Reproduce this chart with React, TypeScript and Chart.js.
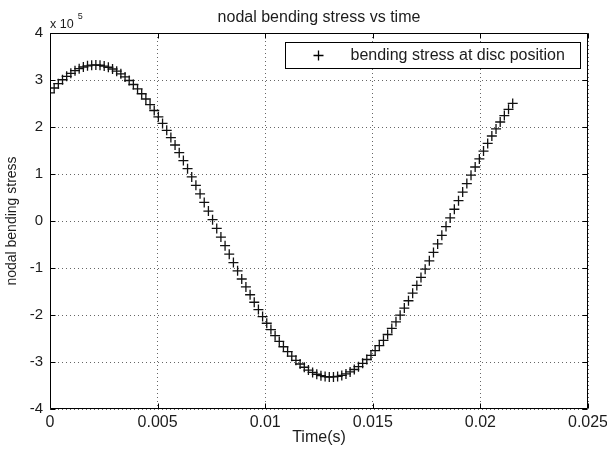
import React, { useEffect, useRef } from "react";
import { Chart, registerables } from "chart.js";

Chart.register(...registerables);

const TITLE = "nodal bending stress vs time";
const X_LABEL = "Time(s)";
const Y_LABEL = "nodal bending stress";
const SERIES_LABEL = "bending stress at disc position";
const Y_EXPONENT = "5";

const X_TICKS = [0, 0.005, 0.01, 0.015, 0.02, 0.025];
const Y_TICKS = [-4e5, -3e5, -2e5, -1e5, 0, 1e5, 2e5, 3e5, 4e5];

const TIME_S = [
  0, 0.000194, 0.000387, 0.000581, 0.000775, 0.000969, 0.001162, 0.001356, 0.00155, 0.001743,
  0.001937, 0.002131, 0.002324, 0.002518, 0.002712, 0.002906, 0.003099, 0.003293, 0.003487, 0.00368,
  0.003874, 0.004068, 0.004261, 0.004455, 0.004649, 0.004843, 0.005036, 0.00523, 0.005424, 0.005617,
  0.005811, 0.006005, 0.006198, 0.006392, 0.006586, 0.00678, 0.006973, 0.007167, 0.007361, 0.007554,
  0.007748, 0.007942, 0.008135, 0.008329, 0.008523, 0.008717, 0.00891, 0.009104, 0.009298, 0.009491,
  0.009685, 0.009879, 0.010072, 0.010266, 0.01046, 0.010654, 0.010847, 0.011041, 0.011235, 0.011428,
  0.011622, 0.011816, 0.012009, 0.012203, 0.012397, 0.012591, 0.012784, 0.012978, 0.013172, 0.013365,
  0.013559, 0.013753, 0.013946, 0.01414, 0.014334, 0.014528, 0.014721, 0.014915, 0.015109, 0.015302,
  0.015496, 0.01569, 0.015883, 0.016077, 0.016271, 0.016465, 0.016658, 0.016852, 0.017046, 0.017239,
  0.017433, 0.017627, 0.01782, 0.018014, 0.018208, 0.018402, 0.018595, 0.018789, 0.018983, 0.019176,
  0.01937, 0.019564, 0.019757, 0.019951, 0.020145, 0.020339, 0.020532, 0.020726, 0.02092, 0.021113,
  0.021307, 0.021501,
];

const STRESS = [
  2.728e5, 2.83e5, 2.922e5, 3.005e5, 3.078e5, 3.143e5, 3.198e5, 3.242e5, 3.277e5, 3.301e5,
  3.316e5, 3.32e5, 3.314e5, 3.297e5, 3.271e5, 3.234e5, 3.187e5, 3.131e5, 3.065e5, 2.989e5,
  2.904e5, 2.81e5, 2.707e5, 2.596e5, 2.478e5, 2.351e5, 2.216e5, 2.076e5, 1.929e5, 1.776e5,
  1.617e5, 1.453e5, 1.286e5, 1.113e5, 0.938e5, 0.759e5, 0.578e5, 0.396e5, 0.212e5, 0.028e5,
  -0.157e5, -0.341e5, -0.524e5, -0.706e5, -0.884e5, -1.061e5, -1.234e5, -1.403e5, -1.569e5, -1.729e5,
  -1.884e5, -2.033e5, -2.175e5, -2.311e5, -2.44e5, -2.562e5, -2.676e5, -2.78e5, -2.877e5, -2.964e5,
  -3.043e5, -3.112e5, -3.172e5, -3.221e5, -3.261e5, -3.291e5, -3.31e5, -3.319e5, -3.318e5, -3.307e5,
  -3.285e5, -3.254e5, -3.212e5, -3.16e5, -3.099e5, -3.028e5, -2.947e5, -2.858e5, -2.759e5, -2.653e5,
  -2.538e5, -2.415e5, -2.285e5, -2.146e5, -2.003e5, -1.852e5, -1.697e5, -1.536e5, -1.37e5, -1.2e5,
  -1.026e5, -0.848e5, -0.669e5, -0.487e5, -0.304e5, -0.119e5, 0.065e5, 0.25e5, 0.433e5, 0.615e5,
  0.796e5, 0.974e5, 1.149e5, 1.32e5, 1.487e5, 1.65e5, 1.808e5, 1.96e5, 2.106e5, 2.244e5,
  2.377e5, 2.502e5,
];

const FONT = "'Liberation Sans', Arial, Helvetica, sans-serif";
const TEXT = "#1c1c1c";
const GRID = "#666666";

const framePlugin = {
  id: "matlabFrame",
  afterDatasetsDraw(chart: any) {
    const { ctx, chartArea: a, scales } = chart;
    const xs = scales.x;
    const ys = scales.y;
    const L = Math.round(a.left) + 0.5;
    const R = Math.round(a.right) - 0.5;
    const T = Math.round(a.top) + 0.5;
    const B = Math.round(a.bottom) - 0.5;
    ctx.save();
    ctx.strokeStyle = "#000";
    ctx.lineWidth = 1;
    ctx.setLineDash([]);
    ctx.beginPath();
    ctx.rect(L, T, R - L, B - T);
    ctx.stroke();
    // inner tick marks
    const tl = 5;
    ctx.beginPath();
    X_TICKS.forEach((v) => {
      const px = Math.round(xs.getPixelForValue(v)) + 0.5;
      ctx.moveTo(px, B);
      ctx.lineTo(px, B - tl);
      ctx.moveTo(px, T);
      ctx.lineTo(px, T + tl);
    });
    Y_TICKS.forEach((v) => {
      const py = Math.round(ys.getPixelForValue(v)) + 0.5;
      ctx.moveTo(L, py);
      ctx.lineTo(L + tl, py);
      ctx.moveTo(R, py);
      ctx.lineTo(R - tl, py);
    });
    ctx.stroke();

    // legend box
    const lw = 295;
    const lh = 26;
    const lr = Math.round(a.right) - 8 + 0.5;
    const ll = lr - lw;
    const lt = Math.round(a.top) + 9 + 0.5;
    ctx.fillStyle = "#fff";
    ctx.fillRect(ll, lt, lw, lh);
    ctx.strokeRect(ll, lt, lw, lh);
    const cx = ll + 33;
    const cy = lt + lh / 2;
    const r = 5;
    ctx.lineWidth = 1.3;
    ctx.beginPath();
    ctx.moveTo(cx - r, cy);
    ctx.lineTo(cx + r, cy);
    ctx.moveTo(cx, cy - r);
    ctx.lineTo(cx, cy + r);
    ctx.stroke();
    ctx.fillStyle = TEXT;
    ctx.font = `16px ${FONT}`;
    ctx.textAlign = "left";
    ctx.textBaseline = "middle";
    ctx.fillText(SERIES_LABEL, ll + 65, cy + 0.5);

    // exponent label
    ctx.textBaseline = "alphabetic";
    ctx.font = `12.5px ${FONT}`;
    const base = "x 10";
    ctx.fillText(base, a.left, 28);
    const w = ctx.measureText(base).width;
    ctx.font = `9px ${FONT}`;
    ctx.fillText(Y_EXPONENT, a.left + w + 4, 19);
    ctx.restore();
  },
};

export default function App() {
  const ref = useRef<HTMLCanvasElement | null>(null);

  useEffect(() => {
    if (!ref.current) return;
    const points = TIME_S.map((t, i) => ({ x: t, y: STRESS[i] }));
    const chart = new Chart(ref.current, {
      type: "scatter",
      data: {
        datasets: [
          {
            label: SERIES_LABEL,
            data: points,
            showLine: false,
            pointStyle: "cross",
            pointRadius: 5,
            pointBorderWidth: 1.3,
            borderColor: "#111",
            backgroundColor: "rgba(0,0,0,0)",
          },
        ],
      },
      options: {
        animation: false,
        responsive: false,
        events: [],
        layout: { padding: { left: 0, right: 19, top: 0, bottom: 0 } },
        plugins: {
          legend: { display: false },
          tooltip: { enabled: false },
          title: {
            display: true,
            text: TITLE,
            color: TEXT,
            fullSize: false,
            font: { family: FONT, size: 16, weight: "normal" },
            padding: { top: 8, bottom: 5.8 },
          },
        },
        scales: {
          x: {
            type: "linear",
            position: "bottom",
            min: 0,
            max: 0.025,
            afterBuildTicks: (s: any) => {
              s.ticks = X_TICKS.map((v) => ({ value: v }));
            },
            afterFit: (s: any) => {
              s.height = 41;
              s.paddingLeft = 0;
              s.paddingRight = 0;
            },
            ticks: {
              autoSkip: false,
              maxRotation: 0,
              padding: 3.5,
              color: TEXT,
              font: { family: FONT, size: 16 },
              callback: (v: any) => String(v),
            },
            grid: { color: GRID, lineWidth: 1, drawTicks: false },
            border: { display: false, dash: [1, 3] },
            title: {
              display: true,
              text: X_LABEL,
              color: TEXT,
              font: { family: FONT, size: 16 },
              padding: { top: 0, bottom: 3 },
            },
          },
          y: {
            type: "linear",
            position: "left",
            min: -4e5,
            max: 4e5,
            afterBuildTicks: (s: any) => {
              s.ticks = Y_TICKS.map((v) => ({ value: v }));
            },
            afterFit: (s: any) => {
              s.width = 50;
              s.paddingTop = 0;
              s.paddingBottom = 0;
            },
            ticks: {
              padding: 7,
              color: TEXT,
              font: { family: FONT, size: 15 },
              callback: (v: any) => String(Math.round(Number(v) / 1e5)),
            },
            grid: { color: GRID, lineWidth: 1, drawTicks: false },
            border: { display: false, dash: [1, 3] },
            title: {
              display: true,
              text: Y_LABEL,
              color: TEXT,
              font: { family: FONT, size: 14 },
              padding: { top: 3.5, bottom: 0 },
            },
          },
        },
      },
      plugins: [framePlugin],
    });
    return () => chart.destroy();
  }, []);

  return (
    <div
      style={{
        position: "fixed",
        left: 0,
        top: 0,
        width: 607,
        height: 450,
        background: "#fff",
      }}
    >
      <canvas ref={ref} width={607} height={450} style={{ display: "block" }} />
    </div>
  );
}
